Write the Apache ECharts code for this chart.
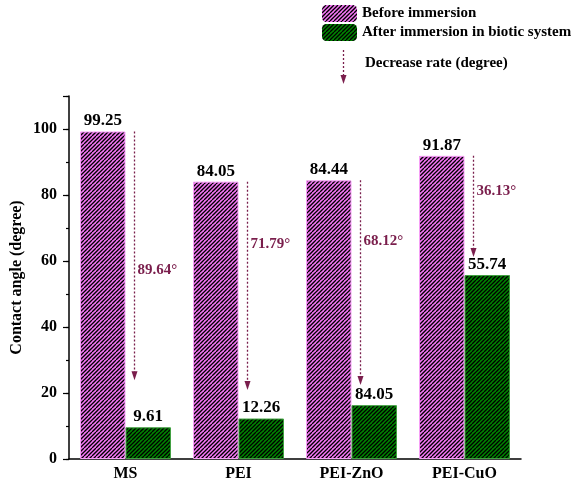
<!DOCTYPE html>
<html>
<head>
<meta charset="utf-8">
<script src="https://cdn.jsdelivr.net/npm/echarts@6/dist/echarts.min.js"></script>
<style>
  html, body { margin: 0; padding: 0; background: #fff; }
  #chart { width: 577px; height: 484px; }
</style>
</head>
<body>
<div id="chart"></div>
<script>
// Contact angle of each coating before and after immersion
const categories = ['MS', 'PEI', 'PEI-ZnO', 'PEI-CuO'];
const beforeValues = [99.25, 84.05, 84.44, 91.87];
const afterValues = [9.61, 12.26, 16.32, 55.74];
// Text printed above each bar
const beforeLabels = ['99.25', '84.05', '84.44', '91.87'];
const afterLabels = ['9.61', '12.26', '84.05', '55.74'];
// Decrease rate annotations: text, arrow end level and text level (degrees)
const decreaseLabels = ['89.64°', '71.79°', '68.12°', '36.13°'];
const arrowEnds = [23.9, 20.9, 22.4, 61.2];
const decreaseTextLevels = [57.3, 65.2, 66.1, 81.2];
const yTicks = [0, 20, 40, 60, 80, 100];

const SERIF = '"Liberation Serif", "DejaVu Serif", serif';
const ARROW = '#7a1e4c';

// Diagonal hatch pattern over a solid fill
function hatch(fill) {
  const c = document.createElement('canvas');
  c.width = 8; c.height = 8;
  const g = c.getContext('2d');
  g.fillStyle = fill;
  g.fillRect(0, 0, 8, 8);
  g.strokeStyle = '#000';
  g.lineWidth = 1.3;
  for (let k = -8; k <= 16; k += 4) {
    g.beginPath();
    g.moveTo(k, 8);
    g.lineTo(k + 8, 0);
    g.stroke();
  }
  return { image: c, repeat: 'repeat' };
}

const pinkHatch = hatch('#f677f6');
const greenHatch = hatch('#008400');

const chart = echarts.init(document.getElementById('chart'), null, { renderer: 'canvas' });

const arrowData = categories.map((c, i) => [i, beforeValues[i], arrowEnds[i], decreaseTextLevels[i]]);

const option = {
  animation: false,
  backgroundColor: '#fff',
  grid: { left: 69, right: 56, top: 96, bottom: 25, containLabel: false, outerBoundsMode: 'none' },
  legend: {
    orient: 'vertical',
    left: 322,
    top: 5,
    padding: 0,
    itemWidth: 35,
    itemHeight: 17,
    itemGap: 2,
    itemStyle: { borderWidth: 0 },
    textStyle: { fontFamily: SERIF, fontWeight: 'bold', fontSize: 15, color: '#000' },
    data: ['Before immersion', 'After immersion in biotic system']
  },
  xAxis: {
    type: 'category',
    data: categories,
    axisLine: { lineStyle: { color: '#000', width: 1.5 } },
    axisTick: { show: false },
    axisLabel: { fontFamily: SERIF, fontWeight: 'bold', fontSize: 16, color: '#000', margin: 7 }
  },
  yAxis: [
    {
      type: 'value', min: 0, max: 110, interval: 10,
      name: 'Contact angle (degree)',
      nameLocation: 'middle', nameGap: 44,
      nameTextStyle: { fontFamily: SERIF, fontWeight: 'bold', fontSize: 16, color: '#000' },
      axisLine: { show: true, lineStyle: { color: '#000', width: 1.5 } },
      axisTick: { show: true, length: 3, lineStyle: { color: '#000', width: 1.2 } },
      axisLabel: { show: false },
      splitLine: { show: false }
    },
    {
      type: 'value', min: 0, max: 110, interval: 20, position: 'left',
      axisLine: { show: false },
      axisTick: { show: true, length: 6, lineStyle: { color: '#000', width: 1.2 } },
      axisLabel: {
        fontFamily: SERIF, fontWeight: 'bold', fontSize: 16, color: '#000', margin: 12,
        formatter: v => (yTicks.indexOf(v) >= 0 ? String(v) : '')
      },
      splitLine: { show: false }
    }
  ],
  series: [
    {
      name: 'Before immersion',
      type: 'bar',
      yAxisIndex: 0,
      data: beforeValues,
      barGap: '0%',
      barCategoryGap: '19.5%',
      itemStyle: { color: pinkHatch, borderColor: '#f7a0f7', borderWidth: 1 },
      label: {
        show: true, position: 'top', distance: 2,
        fontFamily: SERIF, fontWeight: 'bold', fontSize: 17, color: '#000',
        formatter: p => beforeLabels[p.dataIndex]
      }
    },
    {
      name: 'After immersion in biotic system',
      type: 'bar',
      yAxisIndex: 0,
      data: afterValues,
      barGap: '0%',
      barCategoryGap: '19.5%',
      itemStyle: { color: greenHatch, borderColor: '#40a040', borderWidth: 1 },
      label: {
        show: true, position: 'top', distance: 2,
        fontFamily: SERIF, fontWeight: 'bold', fontSize: 17, color: '#000',
        formatter: p => afterLabels[p.dataIndex]
      }
    },
    {
      // Dotted arrows showing the drop in contact angle
      type: 'custom',
      yAxisIndex: 0,
      silent: true,
      z: 5,
      data: arrowData,
      renderItem: function (params, api) {
        const idx = api.value(0);
        const band = api.size([1, 0])[0];
        const x = Math.round(api.coord([idx, 0])[0] + band * 0.075) + 0.5;
        const y0 = api.coord([idx, api.value(1)])[1];
        const y1 = api.coord([idx, api.value(2)])[1];
        const yt = api.coord([idx, api.value(3)])[1];
        const headH = 9, headW = 3;
        return {
          type: 'group',
          children: [
            {
              type: 'line',
              shape: { x1: x, y1: y0, x2: x, y2: y1 - headH + 1 },
              style: { stroke: ARROW, lineWidth: 1.3, lineDash: [2, 2] }
            },
            {
              type: 'polygon',
              shape: { points: [[x - headW, y1 - headH], [x + headW, y1 - headH], [x, y1]] },
              style: { fill: ARROW }
            },
            {
              type: 'text',
              style: {
                x: x + 3, y: yt,
                text: decreaseLabels[idx],
                fill: ARROW,
                font: 'bold 15px ' + SERIF,
                textAlign: 'left',
                textVerticalAlign: 'middle'
              }
            }
          ]
        };
      }
    }
  ],
  graphic: [
    // Third legend entry: dotted arrow key
    {
      type: 'line',
      shape: { x1: 343.5, y1: 50, x2: 343.5, y2: 75 },
      style: { stroke: ARROW, lineWidth: 1.3, lineDash: [2, 2] }
    },
    {
      type: 'polygon',
      shape: { points: [[340.5, 75], [346.5, 75], [343.5, 84]] },
      style: { fill: ARROW }
    },
    {
      type: 'text',
      left: 365, top: 56,
      style: {
        text: 'Decrease rate (degree)',
        fill: '#000',
        font: 'bold 15px ' + SERIF
      }
    }
  ]
};

chart.setOption(option);
</script>
</body>
</html>
